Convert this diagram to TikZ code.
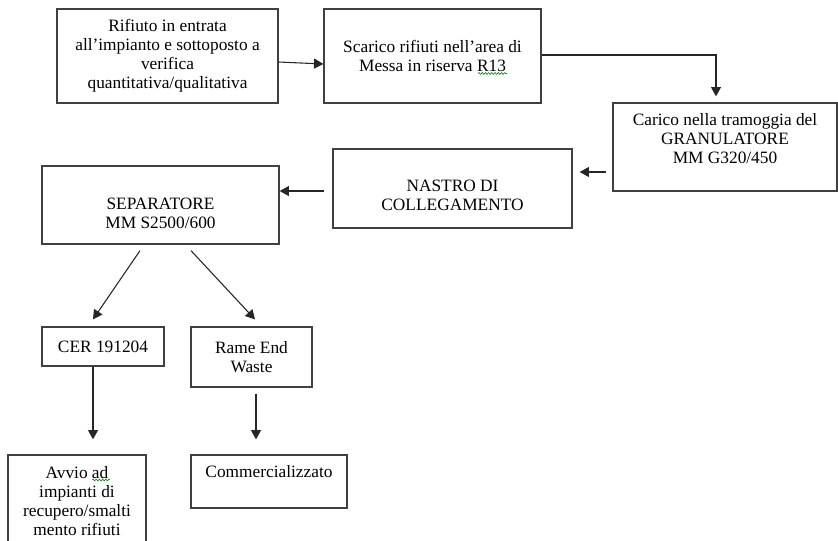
\documentclass[tikz,border=0pt]{standalone}
\usepackage{fontspec}
\setmainfont{Liberation Serif}
\usetikzlibrary{arrows.meta,calc,decorations.pathmorphing}
\newdimen\pxu \pxu=0.75pt
% #1 width, #2 height, #3 extra space above, #4 extra space below, #5 text (all in px)
\newcommand{\btx}[5]{\parbox[c][#2\pxu][c]{#1\pxu}{\centering\vspace*{#3\pxu}#5\par\vspace*{#4\pxu}}}
\begin{document}
\begin{tikzpicture}[x=0.75pt,y=-0.75pt,
  bx/.style={draw=black!75, line width=0.95pt, inner sep=0pt, fill=white,
    font=\fontsize{13}{14.25}\selectfont},
  conn/.style={draw=black!85, line width=0.8pt, -{Triangle[length=7pt,width=7.5pt]}},
  spell/.style={draw=green!55!black, line width=0.45pt, decorate,
    decoration={snake, amplitude=0.7pt, segment length=2.4pt}}]
\useasboundingbox (0,0) rectangle (838,540);
\fill[white] (0,0) rectangle (838,540);
\clip (0,0) rectangle (838,540);

% boxes
\node[bx] (b1) at (167.5,56) {\btx{221}{94}{0}{0}{Rifiuto in entrata\\all’impianto e sottoposto a\\verifica\\quantitativa/qualitativa}};
\node[bx] (b2) at (432.5,56) {\btx{217}{94}{0}{0}{Scarico rifiuti nell’area di\\Messa in riserva R13}};
\node[bx] (b3) at (725,147) {\btx{224}{88}{0}{16}{Carico nella tramoggia del\\GRANULATORE\\MM G320/450}};
\node[bx] (b4) at (452.5,188.5) {\btx{239}{79}{13}{0}{NASTRO DI\\COLLEGAMENTO}};
\node[bx] (b5) at (160.5,205) {\btx{237}{78}{16}{0}{SEPARATORE\\MM S2500/600}};
\node[bx] (c1) at (103,346.5) {\btx{122}{39}{0}{0}{CER 191204}};
\node[bx] (c2) at (251.5,357) {\btx{121}{60}{0}{0}{Rame End\\Waste}};
\node[bx] (d1) at (77,501) {\btx{138}{92}{0}{0}{Avvio ad\\impianti di\\recupero/smalti\\mento rifiuti}};
\node[bx] (d2) at (269,481.5) {\btx{156}{53}{0}{20}{Commercializzato}};

% free ends of connectors
\coordinate (k3) at ($(b3.north)+(-9,-6)$);
\coordinate (a34s) at ($(b3.west)+(-6,25)$);
\coordinate (a34e) at ($(b4.east)+(7,-16.5)$);
\coordinate (a45s) at ($(b4.west)+(-8,2.5)$);
\coordinate (a5c1s) at ($(b5.south)+(-20.5,6)$);
\coordinate (a5c1e) at ($(c1.north)+(-10,-7)$);
\coordinate (a5c2s) at ($(b5.south)+(30.5,6)$);
\coordinate (a5c2e) at ($(c2.north)+(3.5,-7)$);
\coordinate (ac1d1e) at ($(d1.north)+(16,-15)$);
\coordinate (ac2d2s) at ($(c2.south)+(4.5,6)$);
\coordinate (ac2d2e) at ($(d2.north)+(-13,-15)$);

% connectors
\draw[conn] ($(b1.east)+(0,6)$) -- ($(b2.west)+(0,8)$);
\draw[conn] ($(b2.east)+(0,-1)$) -| (k3);
\draw[conn] (a34s) -- (a34e);
\draw[conn] (a45s) -- ($(b5.east)+(0,-14)$);
\draw[conn] (a5c1s) -- (a5c1e);
\draw[conn] (a5c2s) -- (a5c2e);
\draw[conn] ($(c1.south)+(-10,0)$) -- (ac1d1e);
\draw[conn] (ac2d2s) -- (ac2d2e);

% spell-check underlines
\draw[spell] (478,73.5) -- (507,73.5);
\draw[spell] (92,480) -- (110,480);
\end{tikzpicture}
\end{document}
